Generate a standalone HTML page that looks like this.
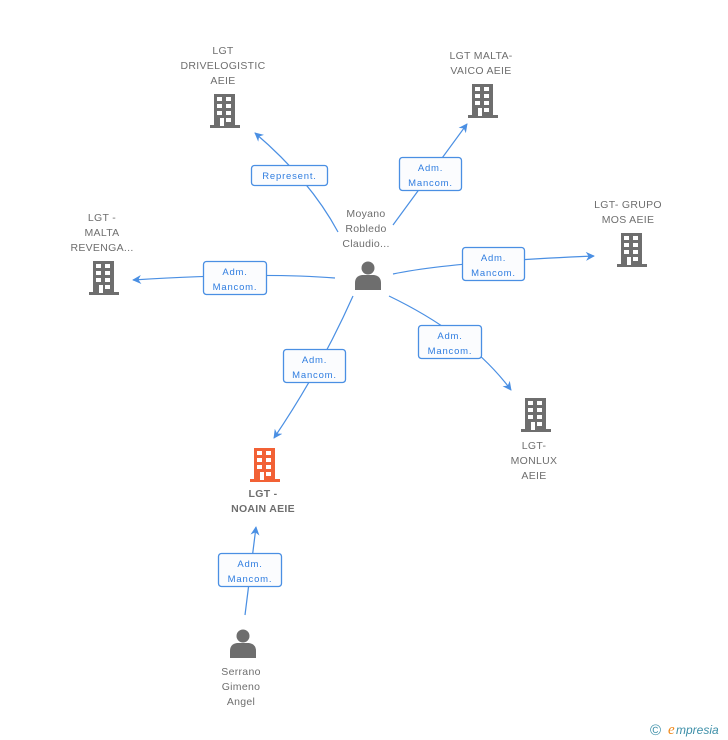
<!DOCTYPE html>
<html><head><meta charset="utf-8"><style>
html,body{margin:0;padding:0;background:#fff;}
svg{display:block;}
text{font-family:"Liberation Sans",sans-serif;}
.lbl{font-size:10.5px;fill:#6e6e6e;letter-spacing:0.3px;text-anchor:middle;}
.bx{fill:#fbfcfe;stroke:#4a8fe3;stroke-width:1.3;}
.bt{font-size:9.5px;fill:#2f7de0;letter-spacing:0.8px;text-anchor:middle;}
.ln{fill:none;stroke:#4a8fe3;stroke-width:1.2;}
</style></head><body>
<svg width="728" height="740" viewBox="0 0 728 740" xmlns="http://www.w3.org/2000/svg">
<defs>
<g id="bld">
<rect x="-11" y="0" width="21" height="32"/>
<rect x="-15" y="31" width="30" height="3"/>
<g fill="#fff">
<rect x="-8" y="3" width="5" height="4"/><rect x="1" y="3" width="5" height="4"/>
<rect x="-8" y="10" width="5" height="4"/><rect x="1" y="10" width="5" height="4"/>
<rect x="-8" y="17" width="5" height="4"/><rect x="1" y="17" width="5" height="4"/>
<rect x="-5" y="24" width="4" height="8"/><rect x="1" y="24" width="5" height="4"/>
</g>
</g>
<g id="per">
<circle cx="0" cy="6" r="6.5"/>
<path d="M-13 28 L-13 21 Q-13 14 -6 13 L6 13 Q13 14 13 21 L13 28 Z"/>
</g>
<marker id="ar" viewBox="0 0 10 10" refX="9" refY="5" markerWidth="9" markerHeight="9" orient="auto" markerUnits="userSpaceOnUse">
<path d="M0 0 L10 5 L0 10 L3 5 Z" fill="#4a8fe3"/>
</marker>
</defs>

<path class="ln" d="M338 232 Q310 180 255 133" marker-end="url(#ar)"/>
<path class="ln" d="M393 225 L467 124" marker-end="url(#ar)"/>
<path class="ln" d="M393 274 Q450 262 594 256" marker-end="url(#ar)"/>
<path class="ln" d="M335 278 Q260 272 133 280" marker-end="url(#ar)"/>
<path class="ln" d="M389 296 Q470 335 511 390" marker-end="url(#ar)"/>
<path class="ln" d="M353 296 Q320 370 274 438" marker-end="url(#ar)"/>
<path class="ln" d="M245 615 L256 527" marker-end="url(#ar)"/>

<rect class="bx" x="251.5" y="165.5" width="76" height="20" rx="3"/>
<text class="bt" x="289.5" y="179">Represent.</text>
<rect class="bx" x="399.5" y="157.5" width="62" height="33" rx="3"/>
<text class="bt" x="430.5" y="171">Adm.</text><text class="bt" x="430.5" y="186">Mancom.</text>
<rect class="bx" x="462.5" y="247.5" width="62" height="33" rx="3"/>
<text class="bt" x="493.5" y="261">Adm.</text><text class="bt" x="493.5" y="276">Mancom.</text>
<rect class="bx" x="203.5" y="261.5" width="63" height="33" rx="3"/>
<text class="bt" x="235" y="275">Adm.</text><text class="bt" x="235" y="290">Mancom.</text>
<rect class="bx" x="418.5" y="325.5" width="63" height="33" rx="3"/>
<text class="bt" x="450" y="339">Adm.</text><text class="bt" x="450" y="354">Mancom.</text>
<rect class="bx" x="283.5" y="349.5" width="62" height="33" rx="3"/>
<text class="bt" x="314.5" y="363">Adm.</text><text class="bt" x="314.5" y="378">Mancom.</text>
<rect class="bx" x="218.5" y="553.5" width="63" height="33" rx="3"/>
<text class="bt" x="250" y="567">Adm.</text><text class="bt" x="250" y="582">Mancom.</text>

<use href="#bld" x="225" y="94" fill="#6e6e6e"/>
<use href="#bld" x="483" y="84" fill="#6e6e6e"/>
<use href="#bld" x="632" y="233" fill="#6e6e6e"/>
<use href="#bld" x="104" y="261" fill="#6e6e6e"/>
<use href="#bld" x="536" y="398" fill="#6e6e6e"/>
<use href="#bld" x="265" y="448" fill="#f26135"/>

<use href="#per" x="368" y="262" fill="#6e6e6e"/>
<use href="#per" x="243" y="630" fill="#6e6e6e"/>

<text class="lbl" x="223" y="54">LGT</text>
<text class="lbl" x="223" y="69">DRIVELOGISTIC</text>
<text class="lbl" x="223" y="84">AEIE</text>
<text class="lbl" x="481" y="59">LGT MALTA-</text>
<text class="lbl" x="481" y="74">VAICO AEIE</text>
<text class="lbl" x="628" y="208">LGT- GRUPO</text>
<text class="lbl" x="628" y="223">MOS AEIE</text>
<text class="lbl" x="102" y="221">LGT -</text>
<text class="lbl" x="102" y="236">MALTA</text>
<text class="lbl" x="102" y="251">REVENGA...</text>
<text class="lbl" x="534" y="449">LGT-</text>
<text class="lbl" x="534" y="464">MONLUX</text>
<text class="lbl" x="534" y="479">AEIE</text>
<text class="lbl" x="366" y="217">Moyano</text>
<text class="lbl" x="366" y="232">Robledo</text>
<text class="lbl" x="366" y="247">Claudio...</text>
<text class="lbl" x="241" y="675">Serrano</text>
<text class="lbl" x="241" y="690">Gimeno</text>
<text class="lbl" x="241" y="705">Angel</text>
<text class="lbl" x="263" y="497" style="font-weight:bold;">LGT -</text>
<text class="lbl" x="263" y="512" style="font-weight:bold;">NOAIN AEIE</text>

<text x="650" y="735" style="font-size:15px;fill:#3d8fa8;">©</text>
<text x="668" y="734" style="font-size:15px;fill:#f08a1c;font-style:italic;font-family:'Liberation Serif',serif;">e</text>
<text x="676" y="734" style="font-size:12px;fill:#3d8fa8;font-style:italic;">mpresia</text>
</svg>
</body></html>
